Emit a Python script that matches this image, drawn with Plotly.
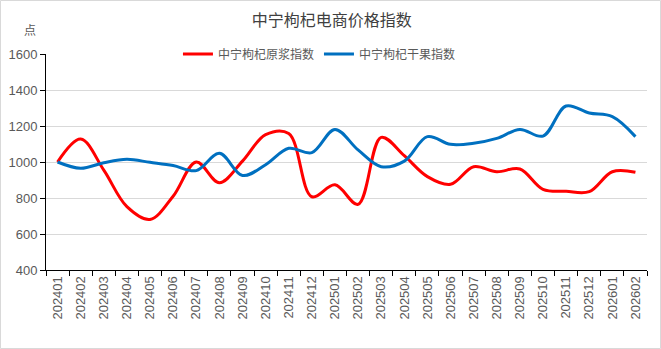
import plotly.graph_objects as go

months = ["202401", "202402", "202403", "202404", "202405", "202406", "202407", "202408",
          "202409", "202410", "202411", "202412", "202501", "202502", "202503", "202504",
          "202505", "202506", "202507", "202508", "202509", "202510", "202511", "202512",
          "202601", "202602"]
yuanjiang = [1000, 1128, 955, 752, 681, 810, 1000, 885, 1005, 1152, 1158, 807, 873, 765,
             1137, 1035, 919, 876, 974, 946, 961, 848, 837, 835, 946, 943]
ganguo = [1000, 965, 996, 1015, 998, 980, 952, 1048, 925, 985, 1076, 1052, 1181, 1067,
          974, 1005, 1141, 1098, 1104, 1131, 1181, 1144, 1311, 1272, 1252, 1141]

W, H = 661, 349
ML, MR, MT, MB = 46, 14, 54, 79
PW, PH = W - ML - MR, H - MT - MB

CJK = "Noto Sans CJK SC"
NUM = "Liberation Sans, Arial, sans-serif"
GRAY = "#595959"

fig = go.Figure()
fig.add_trace(go.Scatter(x=months, y=yuanjiang, name="中宁枸杞原浆指数", mode="lines",
                         line=dict(color="#FF0000", width=3, shape="spline", smoothing=1)))
fig.add_trace(go.Scatter(x=months, y=ganguo, name="中宁枸杞干果指数", mode="lines",
                         line=dict(color="#0070C0", width=3, shape="spline", smoothing=1)))

fig.update_layout(
    width=W, height=H,
    margin=dict(l=ML, r=MR, t=MT, b=MB, autoexpand=False),
    paper_bgcolor="white", plot_bgcolor="white",
    title=dict(text="中宁枸杞电商价格指数", x=0.502, xref="container", xanchor="center",
               y=1 - 20 / H, yref="container", yanchor="middle",
               font=dict(family=CJK, size=16, color="#404040")),
    legend=dict(orientation="h", x=0.455, xanchor="center", y=1, yanchor="middle",
                font=dict(family=CJK, size=12, color=GRAY), bgcolor="white",
                itemwidth=30, tracegroupgap=0),
    showlegend=True,
    xaxis=dict(type="category", range=[-0.5, len(months) - 0.5], tickson="boundaries",
               ticks="outside", ticklen=5, tickcolor="black", showline=True,
               linecolor="black", linewidth=1, showgrid=False, tickangle=-90,
               automargin=False,
               tickfont=dict(family=NUM, size=13, color=GRAY)),
    yaxis=dict(range=[400, 1600], dtick=200, ticks="outside", ticklen=5,
               tickcolor="black", showline=True, linecolor="black", linewidth=1,
               showgrid=True, gridcolor="#d9d9d9", gridwidth=1, zeroline=False,
               automargin=False,
               tickfont=dict(family=NUM, size=13, color=GRAY)),
)

fig.add_annotation(text="点", xref="paper", yref="paper",
                   x=(30 - ML) / PW, y=(MT + PH - 30) / PH, showarrow=False,
                   xanchor="center", yanchor="middle",
                   font=dict(family=CJK, size=12, color=GRAY))

fig.add_shape(type="rect", xref="paper", yref="paper",
              x0=(0.5 - ML) / PW, x1=(W - 0.5 - ML) / PW,
              y0=(MT + PH - (H - 0.5)) / PH, y1=(MT + PH - 0.5) / PH,
              line=dict(color="#d9d9d9", width=1), layer="below")

fig.write_html("out.html")
